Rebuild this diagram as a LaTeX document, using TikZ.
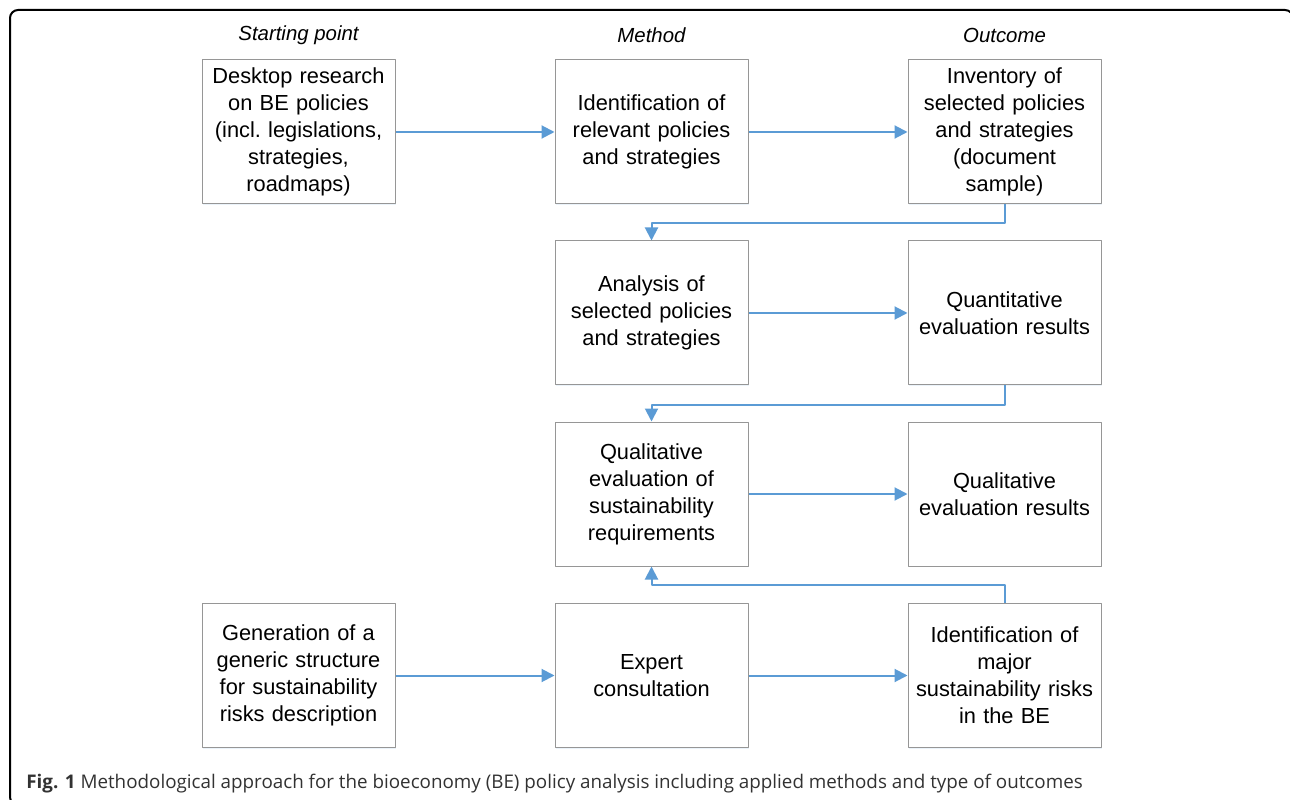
\documentclass[tikz,border=0pt]{standalone}
\usepackage{fontspec}
\setmainfont{Liberation Sans}
\newfontfamily\capfont{Open Sans}
\usetikzlibrary{arrows.meta,shadows}
\definecolor{flowblue}{RGB}{91,155,213}
\definecolor{boxgray}{RGB}{150,150,150}
\definecolor{capgray}{RGB}{50,50,50}
\tikzset{
	box/.style={draw=boxgray,fill=white,line width=0.5pt,minimum width=96.5pt,minimum height=72pt,
		text width=94pt,align=center,inner sep=1pt,font=\fontsize{10.9}{13.5}\selectfont,
		drop shadow={shadow xshift=0.6pt,shadow yshift=-0.6pt,opacity=0.12,fill=flowblue}},
	head/.style={font=\fontsize{10.2}{12}\selectfont\itshape},
	flow/.style={->,draw=flowblue,line width=1pt},
}
\begin{document}
\begin{tikzpicture}[x=0.5pt,y=0.5pt,line join=round,>={Stealth[inset=0pt,length=6.5pt,width=6.5pt]}]
				\useasboundingbox(0,0)rectangle(1290,799);
				\draw[line width=1pt,rounded corners=4pt](10,-6)rectangle(1293,789);
				\path(298.5,667)node(desk)[box]{Desktop research\\on BE policies\\(incl.\ legislations,\\strategies,\\roadmaps)}
				++(353,0)node(ident)[box]{Identification of\\relevant policies\\and strategies}
				++(353,0)node(inv)[box]{Inventory of\\selected policies\\and strategies\\(document\\sample)}
				;
				\path
				(ident)++(0,-181)node(anal)[box]{Analysis of\\selected policies\\and strategies}
				(inv)++(0,-181)node(quant)[box]{Quantitative\\evaluation results}
				;
				\path
				(anal)++(0,-181)node(qual)[box]{Qualitative\\evaluation of\\sustainability\\requirements}
				(quant)++(0,-181)node(qualres)[box]{Qualitative\\evaluation results}
				;
				\path
				(desk)++(0,-543.5)node(gen)[box]{Generation of a\\generic structure\\for sustainability\\risks description}
				++(353,0)node(expert)[box]{Expert\\consultation}
				++(353,0)node(risk)[box]{Identification of\\major\\sustainability risks\\in the BE}
				;
				\path
				(desk)++(0,97)node(hstart)[head]{Starting point}
				(ident)++(0,97)node(hmethod)[head]{Method}
				(inv)++(0,97)node(hout)[head]{Outcome}
				;
				\draw[flow](desk.east)--(ident.west);
				\draw[flow](ident.east)--(inv.west);
				\draw[flow](anal.east)--(quant.west);
				\draw[flow](qual.east)--(qualres.west);
				\draw[flow](gen.east)--(expert.west);
				\draw[flow](expert.east)--(risk.west);
				\draw[flow](inv.south)--++(0,-19)-|(anal.north);
				\draw[flow](quant.south)--++(0,-19)-|(qual.north);
				\draw[flow](risk.north)--++(0,18)-|(qual.south);
				\node(cap)[anchor=base west,inner sep=0,text=capgray,font=\capfont\fontsize{9.4}{11}\selectfont]at(26,11)
				{\textbf{Fig. 1} Methodological approach for the bioeconomy (BE) policy analysis including applied methods and type of outcomes};
\end{tikzpicture}
\end{document}
